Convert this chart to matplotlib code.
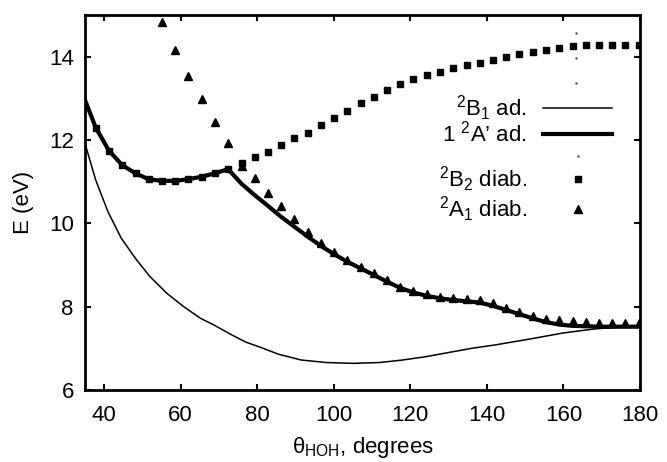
import numpy as np
import matplotlib.pyplot as plt

plt.rcParams['font.family'] = ['Liberation Sans', 'DejaVu Sans']
plt.rcParams['mathtext.fontset'] = 'custom'
plt.rcParams['mathtext.rm'] = 'Liberation Sans'
plt.rcParams['mathtext.it'] = 'Liberation Sans:italic'

# bending angle grid of the diabatic points (degrees)
theta_pts = [37.8, 41.3, 44.7, 48.2, 51.6, 55.1, 58.6, 62.0, 65.5, 68.9,
             72.4, 75.9, 79.3, 82.8, 86.2, 89.7, 93.2, 96.6, 100.1, 103.5,
             107.0, 110.5, 113.9, 117.4, 120.8, 124.3, 127.8, 131.2, 134.7, 138.1,
             141.6, 145.1, 148.5, 152.0, 155.4, 158.9, 162.4, 165.8, 169.3, 172.7,
             176.2, 179.7]

# 2B2 diabatic (squares)
E_b2 = [12.30, 11.74, 11.40, 11.20, 11.06, 11.02, 11.02, 11.06, 11.12, 11.20,
        11.30, 11.44, 11.60, 11.72, 11.88, 12.04, 12.18, 12.36, 12.52, 12.70,
        12.88, 13.04, 13.20, 13.34, 13.46, 13.56, 13.64, 13.72, 13.79, 13.86,
        13.93, 14.00, 14.07, 14.12, 14.17, 14.22, 14.25, 14.27, 14.28, 14.28,
        14.28, 14.28]

# 2A1 diabatic (triangles), first points lie above the plot
E_a1 = [19.5, 18.3, 17.2, 16.4, 15.6, 14.84, 14.16, 13.54, 12.98, 12.44,
        11.94, 11.38, 11.10, 10.74, 10.42, 10.10, 9.80, 9.54, 9.32, 9.12,
        8.96, 8.82, 8.64, 8.48, 8.38, 8.30, 8.24, 8.22, 8.18, 8.16,
        8.08, 7.98, 7.88, 7.78, 7.71, 7.68, 7.66, 7.64, 7.62, 7.62,
        7.62, 7.62]

# 1 2A' adiabatic (thick line)
theta_ap = [35.0, 37.8, 41.3, 44.7, 48.2, 51.6, 55.1, 58.6, 62.0, 65.5, 68.9,
            72.4, 75.9, 79.3, 82.8, 86.2, 89.7, 93.2, 96.6, 100.1, 103.5,
            107.0, 110.5, 113.9, 117.4, 120.8, 124.3, 127.8, 131.2, 134.7, 138.1,
            141.6, 145.1, 148.5, 152.0, 155.4, 158.9, 162.4, 165.8, 169.3, 172.7,
            176.2, 179.7]
E_ap = [12.96, 12.30, 11.74, 11.40, 11.20, 11.06, 11.02, 11.02, 11.06, 11.12, 11.20,
        11.30, 10.95, 10.68, 10.42, 10.16, 9.92, 9.68, 9.46, 9.26, 9.08,
        8.92, 8.76, 8.60, 8.45, 8.34, 8.26, 8.20, 8.16, 8.13, 8.10,
        8.02, 7.92, 7.82, 7.72, 7.63, 7.57, 7.54, 7.53, 7.52, 7.52,
        7.52, 7.52]

# 2B1 adiabatic (thin line)
theta_b1 = [35.0, 37.8, 41.0, 44.5, 48.5, 52.0, 56.4, 60.8, 65.2, 68.7, 73.0,
            77.0, 81.0, 85.5, 91.5, 98.0, 105.0, 112.0, 118.0, 124.0, 130.0,
            136.0, 142.0, 151.0, 160.0, 168.5, 175.0, 179.7]
E_b1 = [11.92, 11.04, 10.28, 9.64, 9.12, 8.72, 8.32, 8.00, 7.72, 7.56, 7.34,
        7.15, 7.02, 6.86, 6.72, 6.66, 6.64, 6.66, 6.72, 6.80, 6.90,
        7.00, 7.08, 7.22, 7.37, 7.47, 7.51, 7.52]

# stray dots
theta_dot = [163.4, 163.4, 163.4]
E_dot = [14.56, 13.96, 13.38]

fig = plt.figure(figsize=(6.67, 4.62), dpi=100)
ax = fig.add_axes([0.1274, 0.1558, 0.8321, 0.8117])

h_b1, = ax.plot(theta_b1, E_b1, color='black', lw=1.1)
h_ap, = ax.plot(theta_ap, E_ap, color='black', lw=3.0)
h_dot, = ax.plot(theta_dot, E_dot, ls='none', marker='.', ms=1.5, color='#555555')
h_a1, = ax.plot(theta_pts, E_a1, ls='none', marker='^', ms=5.5, color='black', zorder=3)
h_b2, = ax.plot(theta_pts, E_b2, ls='none', marker='s', ms=5, color='black', zorder=4)

ax.set_xlim(35, 180)
ax.set_ylim(6, 15)
ax.set_xticks([40, 60, 80, 100, 120, 140, 160, 180])
ax.set_yticks([6, 8, 10, 12, 14])
ax.tick_params(direction='in', length=4.5, width=1.5, labelsize=16,
               top=True, right=True)
ax.tick_params(axis='x', pad=11)
ax.tick_params(axis='y', pad=8)
for s in ax.spines.values():
    s.set_linewidth(2.0)

ax.set_xlabel(r'$\mathrm{θ}_{\mathrm{HOH}}$, degrees', fontsize=16, labelpad=6)
ax.set_ylabel('E (eV)', fontsize=16, labelpad=11)

leg_kw = dict(loc='center right', frameon=False, markerfirst=False,
              handlelength=3.1, handletextpad=0.72,
              borderpad=0, borderaxespad=0, fontsize=16)
leg1 = ax.legend([h_b1, h_ap], [r'$^2$B$_1$ ad.', r'1 $^2$A’ ad.'],
                 bbox_to_anchor=(0.9495, 0.720), labelspacing=-0.09, **leg_kw)
ax.add_artist(leg1)
leg_d = ax.legend([h_dot], [' '], bbox_to_anchor=(0.9495, 0.618),
                  labelspacing=0.0, **leg_kw)
ax.add_artist(leg_d)
leg2 = ax.legend([h_b2, h_a1], [r'$^2$B$_2$ diab.', r'$^2$A$_1$ diab.'],
                 bbox_to_anchor=(0.9495, 0.522), labelspacing=0.0, **leg_kw)

fig.savefig('out.png', dpi=100)
